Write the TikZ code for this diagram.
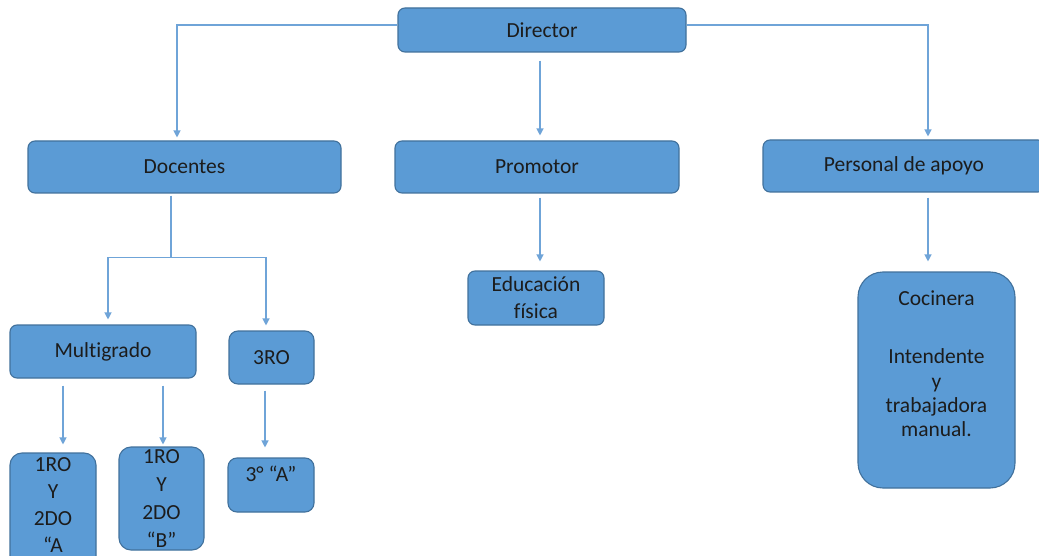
\documentclass[tikz,border=0pt]{standalone}
\usepackage{fontspec}
\setmainfont{Carlito}[Ligatures={NoCommon}]
\usetikzlibrary{arrows.meta,calc}
\definecolor{boxblue}{HTML}{5B9BD5}
\definecolor{boxedge}{HTML}{41719C}
\definecolor{linkblue}{HTML}{6FA4D8}
\definecolor{txt}{HTML}{1C1C1C}
\tikzset{
  box/.style={draw=boxedge, fill=boxblue, line width=1.1pt, rounded corners=7pt, inner sep=0pt, text=txt, align=center, font=\fontsize{21.5}{27}\selectfont},
  lbl/.style={text=txt, align=center, inner sep=0pt, font=\fontsize{21.5}{27}\selectfont},
  conn/.style={draw=linkblue, line width=1.2pt, -{Triangle[width=7pt,length=7pt]}},
  plain/.style={draw=linkblue, line width=1.2pt}
}
\begin{document}
\begin{tikzpicture}[x=1pt,y=-1pt]
\useasboundingbox (0,0) rectangle (1039,556);
\clip (0,0) rectangle (1039,556);
\fill[white] (0,0) rectangle (1039,556);
% boxes
\node[box, minimum width=288pt, minimum height=44pt] (dir) at (542,30) {Director};
\node[box, minimum width=313pt, minimum height=52pt] (doc) at (184.5,167) {Docentes};
\node[box, minimum width=284pt, minimum height=52pt] (prom) at (537,167) {Promotor};
\node[box, minimum width=282pt, minimum height=52pt] (pers) at (904,166) {Personal de apoyo};
\node[box, minimum width=136pt, minimum height=54pt] (edu) at (536,298) {Educación\\física};
\node[box, minimum width=157pt, minimum height=216pt, rounded corners=25pt] (coc) at (936.5,380) {};
\node[box, minimum width=186pt, minimum height=53pt] (multi) at (103,351.5) {Multigrado};
\node[box, minimum width=85pt, minimum height=53pt, rounded corners=9pt] (tres) at (271.5,357.5) {3RO};
\node[box, minimum width=86pt, minimum height=117pt, rounded corners=12pt] (a) at (53,511.5) {};
\node[box, minimum width=85pt, minimum height=103pt, rounded corners=12pt, font=\fontsize{21.5}{28}\selectfont] (b) at (161.5,498.5) {1RO\\Y\\2DO\\“B”};
\node[box, minimum width=86pt, minimum height=54pt, rounded corners=9pt] (c3a) at (271,485) {};
% texts placed within boxes
\node[lbl] (atxt) at (53,505.5) {1RO\\Y\\2DO\\“A};
\node[lbl] (c3atxt) at (271,474) {3° “A”};
\node[lbl] (coc1) at (936.5,298) {Cocinera};
\node[lbl, font=\fontsize{21.5}{24.3}\selectfont] (coc2) at (936.5,393) {Intendente\\y\\trabajadora\\manual.};
% connectors
\draw[conn, shorten >=3pt] ($(dir.west)+(0,-5)$) -| ($(doc.north)+(-7.5,0)$);
\draw[conn, shorten >=3pt] ($(dir.east)+(0,-5)$) -| ($(pers.north)+(24,0)$);
\draw[conn] ($(dir.south)+(-2,8)$) -- ($(prom.north)+(3,-5)$);
\coordinate (dj) at ($(doc.south)+(-13.5,64)$);
\draw[plain] ($(doc.south)+(-13.5,2)$) -- (dj);
\draw[conn, shorten >=5pt] (dj) -| ($(multi.north)+(5,0)$);
\draw[conn, shorten >=5pt] (dj) -| ($(tres.north)+(-5.5,0)$);
\draw[conn] ($(prom.south)+(3,4)$) -- ($(edu.north)+(4,-9)$);
\draw[conn] ($(pers.south)+(24,5)$) -- ($(coc.north)+(-8.5,-10)$);
\draw[conn] ($(multi.south)+(-40,7)$) -- ($(a.north)+(10,-8)$);
\draw[conn] ($(multi.south)+(60,7)$) -- ($(b.north)+(1.5,-2)$);
\draw[conn] ($(tres.south)+(-6.5,6)$) -- ($(c3a.north)+(-6,-10)$);
\end{tikzpicture}
\end{document}
